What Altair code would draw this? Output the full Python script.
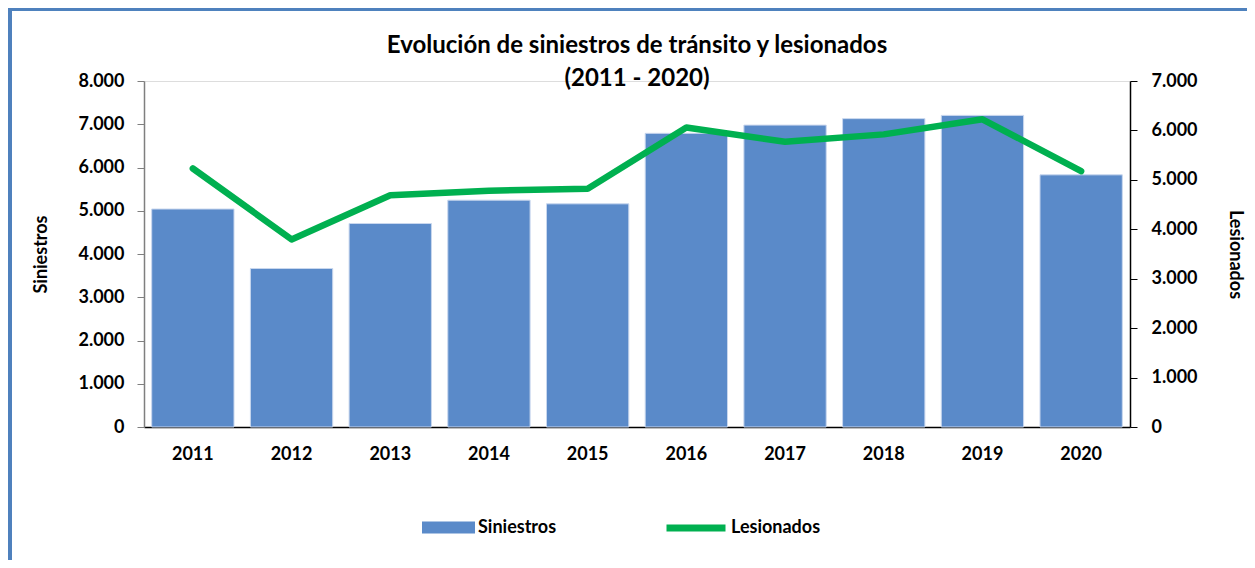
import altair as alt
import pandas as pd

years = ["2011", "2012", "2013", "2014", "2015", "2016", "2017", "2018", "2019", "2020"]
siniestros = [5040, 3665, 4705, 5245, 5160, 6790, 6980, 7130, 7205, 5830]
lesionados = [5230, 3795, 4690, 4780, 4820, 6060, 5770, 5920, 6225, 5175]

df = pd.DataFrame({"Año": years, "Siniestros": siniestros, "Lesionados": lesionados})

FONT = "Lato"
BLUE = "#5A8AC9"
GREEN = "#00B050"

base = alt.Chart(df).encode(
    x=alt.X("Año:N", sort=years, title=None,
            scale=alt.Scale(paddingInner=0.166, paddingOuter=0.078),
            axis=alt.Axis(labelAngle=0, labelFont=FONT, labelFontSize=18, labelFontWeight="bold",
                          labelColor="black", ticks=False, tickSize=0, labelPadding=18,
                          domainColor="black", domainWidth=1.5))
)

bars = base.transform_calculate(serie1="'Siniestros'").mark_bar(
    stroke="#C9D7EE", strokeWidth=1
).encode(
    y=alt.Y("Siniestros:Q", title="Siniestros",
            scale=alt.Scale(domain=[0, 8000], nice=False),
            axis=alt.Axis(values=[0, 1000, 2000, 3000, 4000, 5000, 6000, 7000, 8000],
                          format=",d", labelFont=FONT, labelFontSize=18, labelFontWeight="bold",
                          labelColor="black", tickSize=7, tickColor="#7F7F7F", labelPadding=13,
                          domainColor="#7F7F7F", domainWidth=1.5, grid=False,
                          titleFont=FONT, titleFontSize=18, titleFontWeight="bold",
                          titleColor="black", titlePadding=27)),
    fill=alt.Fill("serie1:N", scale=alt.Scale(domain=["Siniestros"], range=[BLUE]),
                  legend=alt.Legend(title=None, orient="none", legendX=278, legendY=420,
                                    symbolType="M-1,-0.23H1V0.23H-1Z", symbolSize=2809,
                                    symbolStrokeWidth=0, labelFont=FONT, labelFontSize=18,
                                    labelFontWeight="bold", labelColor="black", labelOffset=3,
                                    padding=0)),
)

line = base.transform_calculate(serie2="'Lesionados'").mark_line(
    strokeWidth=6.5, strokeCap="round", strokeJoin="round"
).encode(
    y=alt.Y("Lesionados:Q", title="Lesionados",
            scale=alt.Scale(domain=[0, 7000], nice=False),
            axis=alt.Axis(orient="right", values=[0, 1000, 2000, 3000, 4000, 5000, 6000, 7000],
                          format=",d", labelFont=FONT, labelFontSize=18, labelFontWeight="bold",
                          labelColor="black", tickSize=7, tickColor="black", labelPadding=14,
                          domainColor="black", domainWidth=1.5, grid=False,
                          titleFont=FONT, titleFontSize=18, titleFontWeight="bold",
                          titleColor="black", titleAngle=90, titlePadding=28)),
    stroke=alt.Stroke("serie2:N", scale=alt.Scale(domain=["Lesionados"], range=[GREEN]),
                      legend=alt.Legend(title=None, orient="none", legendX=519, legendY=414,
                                        symbolType="stroke", symbolSize=3481,
                                        symbolStrokeWidth=7, symbolStrokeColor=GREEN,
                                        labelFont=FONT, labelFontSize=18,
                                        labelFontWeight="bold", labelColor="black", labelOffset=2,
                                        padding=0)),
)

# decorative frame (blue border of the original chart area)
frame_left = alt.Chart(df).mark_rule(color="#4F81BD", strokeWidth=4).encode(
    x=alt.value(-134), y=alt.value(-73), y2=alt.value(479)
)
frame_top = alt.Chart(df).mark_rule(color="#4F81BD", strokeWidth=3).encode(
    x=alt.value(-136), x2=alt.value(1103), y=alt.value(-72)
)

chart = alt.layer(bars, line, frame_left, frame_top).resolve_scale(
    y="independent", fill="independent", stroke="independent"
).properties(
    width=986, height=346,
    padding={"left": 136, "top": 73, "right": 117, "bottom": 133},
    autosize=alt.AutoSizeParams(type="none"),
    title=alt.TitleParams(
        text=["Evolución de siniestros de tránsito y lesionados", "(2011 - 2020)"],
        font=FONT, fontSize=24, fontWeight="bold", color="black",
        anchor="middle", lineHeight=33, offset=-85, frame="group",
    ),
).configure_view(stroke=None).configure(
    locale={"number": {"decimal": ",", "thousands": ".", "grouping": [3], "currency": ["$", ""]}}
)

chart.save("out.html", embed_options={"renderer": "svg", "actions": False})
